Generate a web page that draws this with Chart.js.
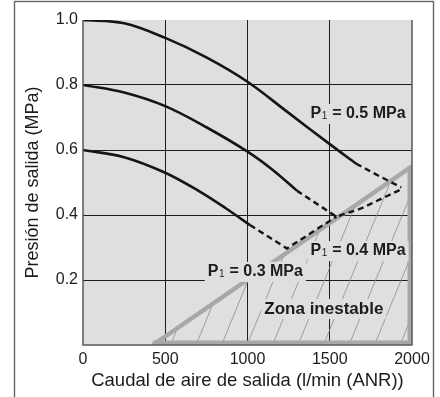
<!DOCTYPE html>
<html>
<head>
<meta charset="utf-8">
<script src="https://cdn.jsdelivr.net/npm/chart.js@4.4.0/dist/chart.umd.min.js"></script>
<style>
  html, body { margin: 0; padding: 0; background: #fff; }
  #wrap { width: 440px; height: 397px; }
</style>
</head>
<body>
<div id="wrap"><canvas id="chart" width="440" height="397"></canvas></div>
<script>
// P1 = 0.5 MPa
const flow05 = [0, 250, 500, 750, 1000, 1240, 1500, 1660]
const pres05 = [1.0, 0.99, 0.945, 0.885, 0.81, 0.718, 0.618, 0.558]
const flow05dash = [1660, 1800, 1935]
const pres05dash = [0.558, 0.52, 0.485]

// P1 = 0.4 MPa
const flow04 = [0, 250, 500, 750, 1000, 1150, 1300]
const pres04 = [0.8, 0.777, 0.735, 0.67, 0.595, 0.54, 0.475]
const flow04dash = [1300, 1540, 1690, 1930]
const pres04dash = [0.475, 0.395, 0.42, 0.478]

// P1 = 0.3 MPa
const flow03 = [0, 250, 500, 710, 870, 1015]
const pres03 = [0.6, 0.578, 0.53, 0.472, 0.42, 0.369]
const flow03dash = [1015, 1240, 1540]
const pres03dash = [0.369, 0.297, 0.395]

// zona inestable
const zoneFlow = [425, 2000, 2000, 425]
const zonePres = [0, 0.55, 0, 0]

const xTicks = [0, 500, 1000, 1500, 2000]
const yTicks = [0.2, 0.4, 0.6, 0.8, 1.0]

const FONT = '"Liberation Sans", Arial, sans-serif'
const PLOT_BG = '#dfdfdf'
const INK = '#1c1c1c'

const pts = (xs, ys) => xs.map((x, i) => ({ x: x, y: ys[i] }))

const solid = (xs, ys) => ({
  data: pts(xs, ys),
  borderColor: '#151515',
  borderWidth: 2.6,
  pointRadius: 0,
  tension: 0.35,
  showLine: true,
  order: 0
})
const dashed = (xs, ys) => ({
  data: pts(xs, ys),
  borderColor: '#151515',
  borderWidth: 2.4,
  borderDash: [6, 4],
  pointRadius: 0,
  tension: 0,
  showLine: true,
  order: 0
})

// outer frame + plot background
const framePlugin = {
  id: 'frame',
  beforeDraw(chart) {
    const { ctx, chartArea: a } = chart
    ctx.save()
    ctx.fillStyle = '#fff'
    ctx.fillRect(0, 0, chart.width, chart.height)
    ctx.strokeStyle = '#666'
    ctx.lineWidth = 1.4
    ctx.strokeRect(14.5, 1.5, 419, chart.height + 10)
    ctx.fillStyle = PLOT_BG
    ctx.fillRect(a.left, a.top, a.right - a.left, a.bottom - a.top)
    ctx.restore()
  }
}

// hatching inside the unstable zone
const hatchPlugin = {
  id: 'hatch',
  beforeDatasetsDraw(chart) {
    const { ctx, scales: { x, y } } = chart
    ctx.save()
    ctx.beginPath()
    zoneFlow.forEach((f, i) => {
      const px = x.getPixelForValue(f), py = y.getPixelForValue(zonePres[i])
      i === 0 ? ctx.moveTo(px, py) : ctx.lineTo(px, py)
    })
    ctx.closePath()
    ctx.clip()
    ctx.strokeStyle = '#8c8c8c'
    ctx.lineWidth = 0.8
    const bottom = y.getPixelForValue(0)
    const top = y.getPixelForValue(0.6)
    const slope = 0.41
    const step = 25.5
    let bx = x.getPixelForValue(2000) - 12
    while (bx > x.getPixelForValue(0)) {
      ctx.beginPath()
      ctx.moveTo(bx, bottom)
      ctx.lineTo(bx + slope * (bottom - top), top)
      ctx.stroke()
      bx -= step
    }
    ctx.restore()
  },
  afterDatasetsDraw(chart) {
    // plot border left / bottom / right
    const { ctx, chartArea: a } = chart
    ctx.save()
    ctx.strokeStyle = '#5a5a5a'
    ctx.lineWidth = 1.5
    ctx.beginPath()
    ctx.moveTo(a.left, a.top)
    ctx.lineTo(a.left, a.bottom)
    ctx.lineTo(a.right, a.bottom)
    ctx.lineTo(a.right, a.top)
    ctx.stroke()
    ctx.restore()
  }
}

// text labels
function labelP1(ctx, x, y, rest) {
  ctx.font = 'bold 16px ' + FONT
  const wP = ctx.measureText('P').width
  ctx.font = '10px ' + FONT
  const w1 = ctx.measureText('1').width
  ctx.font = 'bold 16px ' + FONT
  const wR = ctx.measureText(rest).width
  const total = wP + w1 + 1 + wR
  ctx.fillStyle = PLOT_BG
  ctx.fillRect(x - 3, y - 10, total + 6, 20)
  ctx.fillStyle = INK
  ctx.fillText('P', x, y)
  ctx.font = '10px ' + FONT
  ctx.fillText('1', x + wP + 0.5, y + 2.5)
  ctx.font = 'bold 16px ' + FONT
  ctx.fillText(rest, x + wP + w1 + 1, y)
}

const labelPlugin = {
  id: 'labels',
  afterDraw(chart) {
    const { ctx, scales: { x, y } } = chart
    ctx.save()
    ctx.textBaseline = 'middle'
    ctx.textAlign = 'left'
    labelP1(ctx, x.getPixelForValue(1383), y.getPixelForValue(0.711), ' = 0.5 MPa')
    labelP1(ctx, x.getPixelForValue(1383), y.getPixelForValue(0.289), ' = 0.4 MPa')
    labelP1(ctx, x.getPixelForValue(759), y.getPixelForValue(0.225), ' = 0.3 MPa')
    ctx.font = 'bold 17px ' + FONT
    const t = 'Zona inestable'
    const w = ctx.measureText(t).width
    const cx = x.getPixelForValue(1464), cy = y.getPixelForValue(0.111)
    ctx.fillStyle = PLOT_BG
    ctx.fillRect(cx - w / 2 - 3, cy - 10, w + 6, 20)
    ctx.fillStyle = INK
    ctx.textAlign = 'center'
    ctx.fillText(t, cx, cy)
    ctx.restore()
  }
}

new Chart(document.getElementById('chart'), {
  type: 'scatter',
  data: {
    datasets: [
      solid(flow05, pres05),
      dashed(flow05dash, pres05dash),
      solid(flow04, pres04),
      dashed(flow04dash, pres04dash),
      solid(flow03, pres03),
      dashed(flow03dash, pres03dash),
      {
        // hypotenuse of the unstable zone
        data: pts(zoneFlow.slice(0, 2), zonePres.slice(0, 2)),
        borderColor: '#a8a8a8',
        borderWidth: 4.5,
        pointRadius: 0,
        showLine: true,
        tension: 0,
        order: 1
      },
      {
        // right and bottom edges of the zone (half clipped by the plot area)
        data: pts(zoneFlow.slice(1), zonePres.slice(1)),
        borderColor: '#a8a8a8',
        borderWidth: 9,
        borderJoinStyle: 'miter',
        pointRadius: 0,
        showLine: true,
        tension: 0,
        clip: 0,
        order: 1
      }
    ]
  },
  options: {
    responsive: false,
    animation: false,
    devicePixelRatio: 1,
    layout: { padding: { top: 20, right: 28, left: 0, bottom: 0 } },
    plugins: {
      legend: { display: false },
      tooltip: { enabled: false }
    },
    scales: {
      x: {
        type: 'linear',
        min: 0,
        max: 2000,
        afterFit: (s) => { s.height = 52 },
        afterBuildTicks: (s) => { s.ticks = xTicks.map(v => ({ value: v })) },
        ticks: {
          padding: 4.5,
          color: INK,
          font: { family: FONT, size: 16 },
          callback: (v) => String(v)
        },
        grid: {
          drawTicks: false,
          lineWidth: 1,
          color: (c) => (c.tick && c.tick.value > 0 && c.tick.value < 2000) ? '#1e1e1e' : 'rgba(0,0,0,0)'
        },
        border: { display: false },
        title: {
          display: true,
          text: 'Caudal de aire de salida (l/min (ANR))',
          color: INK,
          font: { family: FONT, size: 18.5 },
          padding: { top: 0, bottom: 5 }
        }
      },
      y: {
        type: 'linear',
        min: 0,
        max: 1.0,
        afterFit: (s) => { s.width = 83 },
        afterBuildTicks: (s) => { s.ticks = [0].concat(yTicks).map(v => ({ value: v })) },
        ticks: {
          padding: 5,
          color: INK,
          font: { family: FONT, size: 16 },
          callback: (v) => v === 0 ? '' : Number(v).toFixed(1)
        },
        grid: {
          drawTicks: false,
          lineWidth: 1,
          color: (c) => (c.tick && c.tick.value > 0.01 && c.tick.value < 0.99) ? '#1e1e1e' : 'rgba(0,0,0,0)'
        },
        border: { display: false },
        title: {
          display: true,
          text: 'Presión de salida (MPa)',
          color: INK,
          font: { family: FONT, size: 18 },
          padding: { top: 22, bottom: 0 }
        }
      }
    }
  },
  plugins: [framePlugin, hatchPlugin, labelPlugin]
})
</script>
</body>
</html>
